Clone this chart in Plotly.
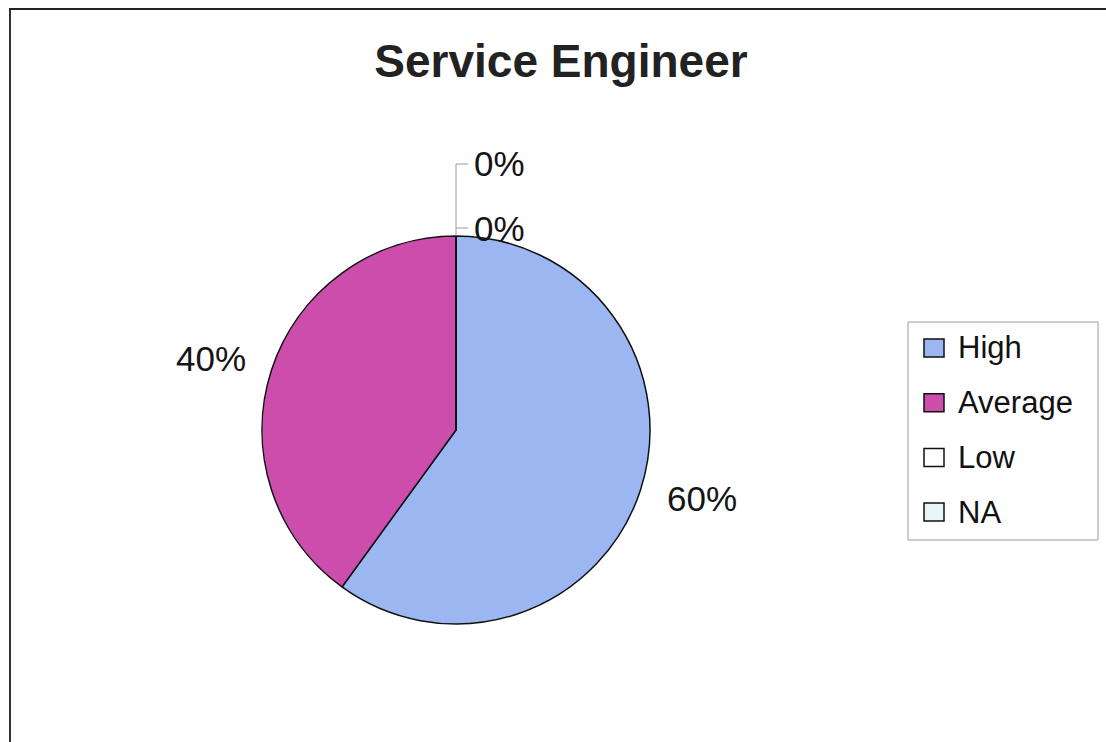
import plotly.graph_objects as go

# Ratings for the "Service Engineer" question
categories = ["High", "Average", "Low", "NA"]
shares = [60, 40, 0, 0]
slice_colors = ["#9CB6F2", "#CC4DAC", "#FFFFFF", "#E6F6F6"]

W, H = 1106, 742
FONT = "Liberation Sans, Arial, sans-serif"


def px(x):
    return x / W


def py(y):
    return 1 - y / H


total = sum(shares)
pct = [round(v / total * 100) for v in shares]

# pie geometry (pixels)
cx, cy, r = 456, 430, 194

fig = go.Figure(
    go.Pie(
        labels=categories,
        values=shares,
        sort=False,
        direction="clockwise",
        rotation=0,
        marker=dict(colors=slice_colors, line=dict(color="#111111", width=1.5)),
        textinfo="none",
        hoverinfo="label+percent",
        showlegend=False,
        domain=dict(x=[px(cx - r), px(cx + r)], y=[py(cy + r), py(cy - r)]),
    )
)

# percentage labels
label_pos = {
    "High": (665, 498, "left"),
    "Average": (248, 358, "right"),
    "Low": (472, 164, "left"),
    "NA": (472, 228, "left"),
}
annotations = []
for name, p in zip(categories, pct):
    x, y, anchor = label_pos[name]
    annotations.append(
        dict(
            x=px(x), y=py(y), xref="paper", yref="paper",
            text=f"{p}%", showarrow=False, xanchor=anchor, yanchor="middle",
            font=dict(family=FONT, size=35, color="#141414"),
        )
    )

# leader lines for the zero-share slices and the outer frame
shapes = [
    dict(type="path", xref="paper", yref="paper",
         path=f"M {px(468)} {py(164)} L {px(456)} {py(164)} L {px(456)} {py(cy - r)}",
         line=dict(color="#9a9a9a", width=1)),
    dict(type="line", xref="paper", yref="paper",
         x0=px(456), y0=py(228), x1=px(468), y1=py(228),
         line=dict(color="#9a9a9a", width=1)),
    dict(type="line", xref="paper", yref="paper",
         x0=px(9), y0=py(9), x1=1, y1=py(9),
         line=dict(color="#222222", width=2)),
    dict(type="line", xref="paper", yref="paper",
         x0=px(10), y0=py(9), x1=px(10), y1=0,
         line=dict(color="#333333", width=2)),
]

# legend box with one swatch + label per category
legend_left, legend_top, legend_right, legend_bottom = 908, 322, 1098, 540
row_y0, row_step = 348, 54.7
shapes.append(
    dict(type="rect", xref="paper", yref="paper",
         x0=px(legend_left), y0=py(legend_bottom), x1=px(legend_right), y1=py(legend_top),
         line=dict(color="#9a9a9a", width=1), fillcolor="rgba(0,0,0,0)")
)
for i, (name, color) in enumerate(zip(categories, slice_colors)):
    yc = row_y0 + i * row_step
    shapes.append(
        dict(type="rect", xref="paper", yref="paper",
             x0=px(924), x1=px(944), y0=py(yc + 9), y1=py(yc - 9),
             fillcolor=color, line=dict(color="#111111", width=1.5))
    )
    annotations.append(
        dict(x=px(956), y=py(yc), xref="paper", yref="paper",
             text=name, showarrow=False, xanchor="left", yanchor="middle",
             font=dict(family=FONT, size=31, color="#111111"))
    )

fig.update_layout(
    width=W, height=H,
    margin=dict(l=0, r=0, t=0, b=0),
    paper_bgcolor="white",
    plot_bgcolor="white",
    title=dict(
        text="<b>Service Engineer</b>",
        x=px(561), y=py(61), xanchor="center", yanchor="middle",
        xref="paper", yref="paper",
        font=dict(family=FONT, size=46, color="#222222"),
    ),
    annotations=annotations,
    shapes=shapes,
)

fig.write_html("out.html")
